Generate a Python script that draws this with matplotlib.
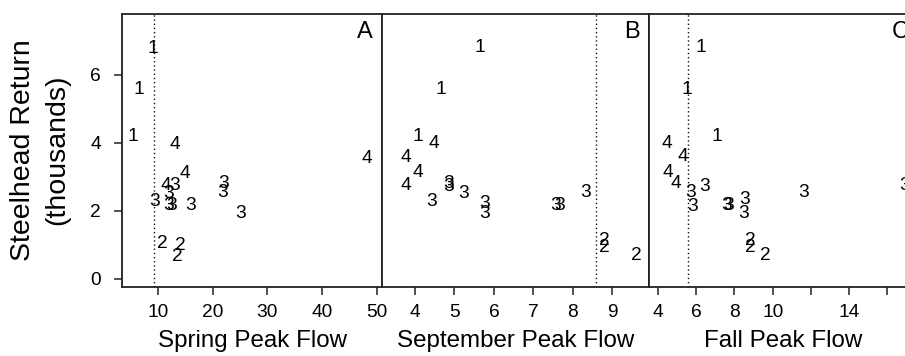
import matplotlib
matplotlib.use('Agg')
import matplotlib.pyplot as plt

plt.rcParams['font.family'] = ['Liberation Sans', 'DejaVu Sans']

# group codes of the points (same order in every panel)
groups = ['1', '1', '1', '4', '4', '4', '4',
          '3', '3', '3', '3', '3', '3', '3', '3', '3',
          '2', '2', '2']

# A - spring peak flow
spring_x = [9.14, 6.52, 5.48, 13.11, 48.17, 14.94, 11.41,
            13.11, 21.94, 21.83, 11.88, 9.45, 11.88, 12.51, 15.98, 25.13,
            10.79, 14.02, 13.53]
spring_y = [6.77, 5.57, 4.17, 3.95, 3.54, 3.09, 2.75,
            2.75, 2.78, 2.52, 2.51, 2.26, 2.16, 2.16, 2.16, 1.92,
            1.04, 0.96, 0.64]

# B - september peak flow
sept_x = [5.65, 4.66, 4.08, 4.48, 3.76, 4.08, 3.76,
          4.84, 4.86, 5.22, 4.42, 5.77, 5.77, 7.56, 7.67, 8.32,
          8.81, 8.81, 9.62]
sept_y = [6.80, 5.57, 4.19, 3.96, 3.56, 3.11, 2.75,
          2.78, 2.72, 2.51, 2.26, 2.21, 1.92, 2.16, 2.16, 2.52,
          1.13, 0.92, 0.69]

# C - fall peak flow
fall_x = [6.24, 5.49, 7.06, 4.44, 5.31, 4.52, 4.91,
          6.45, 5.71, 5.78, 7.59, 7.71, 8.55, 8.46, 11.64, 16.9,
          8.81, 8.81, 9.63]
fall_y = [6.80, 5.57, 4.19, 3.96, 3.58, 3.11, 2.78,
          2.70, 2.52, 2.13, 2.16, 2.16, 2.31, 1.92, 2.52, 2.75,
          1.13, 0.92, 0.69]

thresholds = [9.27, 8.58, 5.57]   # dotted lines
panel_names = ['A', 'B', 'C']
xlabels = ['Spring Peak Flow', 'September Peak Flow', 'Fall Peak Flow']
xticks = [[10, 20, 30, 40, 50],
          [4, 5, 6, 7, 8, 9],
          [4, 6, 8, 10, 12, 14, 16]]
xticklabels = [['10', '20', '30', '40', '50'],
               ['4', '5', '6', '7', '8', '9'],
               ['4', '6', '8', '10', '', '14', '']]
xlims = [(3.415, 50.97), (3.164, 9.929), (3.52, 17.62)]
yticks = [0, 2, 4, 6]

W, H = 905, 356
fig = plt.figure(figsize=(W / 100, H / 100), dpi=100)

# panel boxes in pixels: left, right
boxes = [(122, 382), (382, 649), (649, 918)]
top, bottom = 14, 287

xs = [spring_x, sept_x, fall_x]
ys = [spring_y, sept_y, fall_y]

for i in range(3):
    l, r = boxes[i]
    ax = fig.add_axes([l / W, (H - bottom) / H, (r - l) / W, (bottom - top) / H])
    for t, x, y in zip(groups, xs[i], ys[i]):
        ax.text(x, y, t, fontsize=13.8, ha='center', va='center', color='black')
    ax.axvline(thresholds[i], color='#111111', lw=1.0, linestyle=(0, (1, 2)))
    ax.set_xlim(xlims[i])
    ax.set_ylim(-0.25, 7.78)
    ax.set_xticks(xticks[i])
    ax.set_xticklabels(xticklabels[i])
    ax.tick_params(axis='x', length=6, width=1.1, labelsize=13.8, pad=6.5, color='#222222')
    if i == 0:
        ax.set_yticks(yticks)
        ax.tick_params(axis='y', length=6, width=1.1, labelsize=13.8, pad=9, color='#222222')
    else:
        ax.set_yticks([])
    for s in ax.spines.values():
        s.set_linewidth(1.3)
        s.set_color('#222222')
    ax.set_xlabel(xlabels[i], fontsize=17.4, labelpad=6)
    ax.text(1 - 9 / (r - l), 1 - 7 / (bottom - top), panel_names[i], transform=ax.transAxes,
            ha='right', va='top', fontsize=17)

fig.text(40 / W, 1 - 150 / H, 'Steelhead Return\n(thousands)', rotation=90,
         ha='center', va='center', fontsize=20.5, linespacing=1.4, multialignment='center')

fig.savefig('out.png', dpi=100)
